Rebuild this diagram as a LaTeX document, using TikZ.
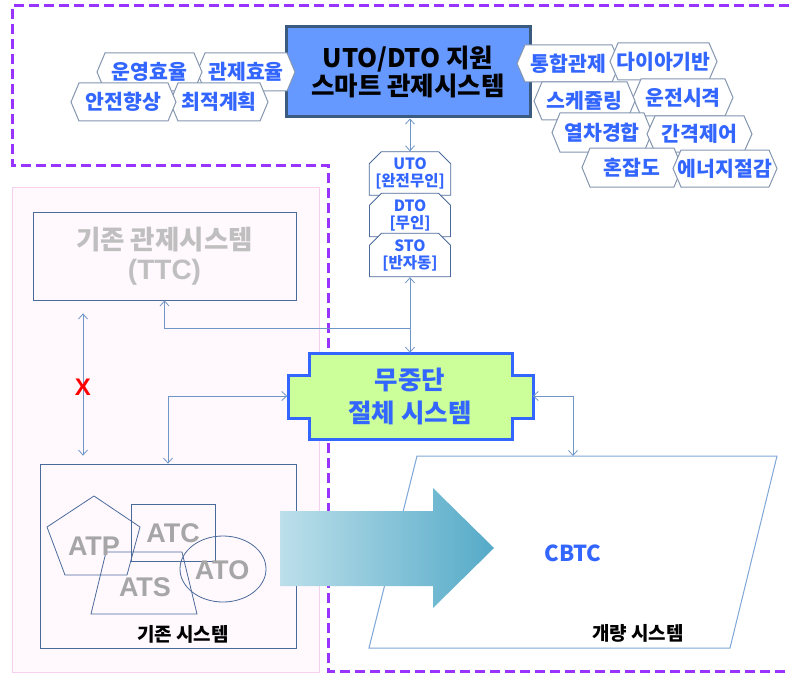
\documentclass[tikz,border=0pt]{standalone}
\usepackage{fontspec}
\setmainfont{Liberation Sans}
\newfontfamily\kr{Noto Sans CJK KR}
\usetikzlibrary{arrows.meta,shapes.misc,calc}
\definecolor{conncol}{HTML}{6F96C8}
\definecolor{purp}{HTML}{9933FF}
\definecolor{pinkfill}{HTML}{FFF8FD}
\definecolor{pinkline}{HTML}{F7D0F0}
\definecolor{boxline}{HTML}{4A6A9A}
\definecolor{smartfill}{HTML}{6699FF}
\definecolor{smartline}{HTML}{3A5A80}
\definecolor{greenfill}{HTML}{CCFF99}
\definecolor{brightblue}{HTML}{3366FF}
\definecolor{tagline}{HTML}{8496B0}
\definecolor{atgray}{HTML}{A6A6A6}
\definecolor{ttcgray}{HTML}{BFBFBF}
\definecolor{paraline}{HTML}{7FA6D8}
\definecolor{arrL}{HTML}{BCDFEA}
\definecolor{arrR}{HTML}{55AAC8}
\tikzset{
  >={Straight Barb[length=5pt,width=9pt]},
  conn/.style={draw=conncol, line width=0.8pt},
  plainbox/.style={draw=boxline, line width=0.8pt, inner sep=0pt},
  hexline/.style={draw=tagline, fill=white, line width=1pt},
  tagtext/.style={font=\kr\bfseries\fontsize{20.5}{22}\selectfont, text=brightblue, inner sep=0pt},
  modebox/.style={chamfered rectangle, chamfered rectangle corners={north west,north east},
    chamfered rectangle xsep=6pt, chamfered rectangle ysep=6pt,
    draw=boxline, fill=white, line width=0.9pt, minimum width=81pt, minimum height=38pt,
    inner sep=0pt, align=center, text=brightblue,
    font=\kr\bfseries\fontsize{15.5}{17}\selectfont},
  atlabel/.style={font=\rmfamily\bfseries\fontsize{27}{30}\selectfont, text=atgray, inner sep=0pt},
  sublabel/.style={font=\kr\bfseries\fontsize{19}{22}\selectfont, text=black, inner sep=0pt},
}
\newcommand\hextag[6]{%
  \draw[hexline] (#2,{(#4+#5)/2}) -- ({#2+8},#4) -- ({#3-8},#4) -- (#3,{(#4+#5)/2}) -- ({#3-8},#5) -- ({#2+8},#5) -- cycle;
  \node[tagtext] (#1) at ({(#2+#3)/2},{(#4+#5)/2}) {#6};}
\begin{document}
\begin{tikzpicture}[x=1pt,y=-1pt]
\useasboundingbox (0,0) rectangle (789,674);
% pink panel
\filldraw[fill=pinkfill, draw=pinkline, line width=1pt] (12,187) rectangle (319,672);
% dashed border
\draw[purp, line width=3pt, dash pattern=on 10pt off 5pt] (789,6) -- (12,6) -- (12,165) -- (328,165) -- (328,671) -- (789,671);

% smart control box
\node[draw=smartline, fill=smartfill, line width=3pt, minimum width=244pt, minimum height=90pt,
  align=center, inner sep=0pt, font=\kr\bfseries\fontsize{25.5}{28}\selectfont] (smart) at (408,72)
  {UTO/DTO 지원\\스마트 관제시스템};

% tags left
\hextag{t2}{197}{295}{53}{91}{관제효율}
\hextag{t1}{97}{202}{53}{91}{운영효율}
\hextag{t4}{170}{268}{83}{121}{최적계획}
\hextag{t3}{71}{176}{83}{121}{안전향상}
% tags right
\hextag{t5}{517}{620}{45}{82}{통합관제}
\hextag{t6}{610}{717}{43}{80}{다이아기반}
\hextag{t8}{633}{733}{79}{116}{운전시격}
\hextag{t7}{534}{635}{82}{120}{스케쥴링}
\hextag{t9}{552}{652}{113}{152}{열차경합}
\hextag{t10}{647}{752}{116}{152}{간격제어}
\hextag{t11}{582}{682}{148}{187}{혼잡도}
\hextag{t12}{673}{777}{150}{187}{에너지절감}

% mode boxes
\node[modebox] (uto) at (410,173.5) {UTO\\{[완전무인]}};
\node[modebox] (dto) at (410,215) {DTO\\{[무인]}};
\node[modebox] (sto) at (410,255) {STO\\{[반자동]}};

% TTC box
\node[plainbox, minimum width=263pt, minimum height=88pt, align=center, text=ttcgray,
  font=\kr\bfseries\fontsize{26.5}{30}\selectfont] (ttc) at (164.5,256)
  {기존 관제시스템\\{\rmfamily\fontsize{28}{30}\selectfont (TTC)}};

% existing system box
\node[plainbox, minimum width=256pt, minimum height=184pt] (exist) at (168,556) {};
\draw[boxline, line width=0.8pt] (94,496) -- (140,527) -- (127,575) -- (65,575) -- (47,527) -- cycle;
\draw[boxline, line width=0.8pt] (131,504) rectangle (215,561);
\draw[boxline, line width=0.8pt] (106,552) -- (182,552) -- (197,614) -- (91,614) -- cycle;
\draw[boxline, line width=0.8pt] (223,569) ellipse [x radius=43pt, y radius=33pt];
\node[atlabel] (atp) at (94,546) {ATP};
\node[atlabel] (atc) at (173,533) {ATC};
\node[atlabel] (ats) at (145,587) {ATS};
\node[atlabel] (ato) at (222,570) {ATO};
\node[sublabel] (existlab) at (183,634) {기존 시스템};

% CBTC parallelogram
\draw[paraline, line width=1pt, fill=white] (417,456) -- (777,456) -- (730,648) -- (369,648) -- cycle;
\coordinate (cbtctop) at (573,456);
\node[font=\kr\bfseries\fontsize{22}{26}\selectfont, text=brightblue, inner sep=0pt] (cbtc) at (573,553) {CBTC};
\node[sublabel] (newlab) at (638,633) {개량 시스템};

% big gradient arrow
\shade[left color=arrL, right color=arrR] (280,511) -- (433,511) -- (433,488) -- (494,548) -- (433,608) -- (433,586) -- (280,586) -- cycle;

% green switching system
\filldraw[fill=greenfill, draw=brightblue, line width=3pt] (309,353) -- (512,353) -- (512,375) -- (533,375) -- (533,418) -- (512,418) -- (512,439) -- (309,439) -- (309,418) -- (288,418) -- (288,375) -- (309,375) -- cycle;
\node[minimum width=245pt, minimum height=86pt, inner sep=0pt, align=center, text=brightblue,
  font=\kr\bfseries\fontsize{25.5}{33}\selectfont] (green) at (410,396) {무중단\\절체 시스템};

% connectors
\draw[conn,<->] (uto.north) -- (uto.north |- smart.south);
\draw[conn,<->] (sto.south) -- (green.north);
\path (sto.south) -- (green.north) coordinate[pos=0.675] (junc);
\draw[conn,<-] (ttc.south) |- (junc);
\draw[conn,<->] (green.west) -| (exist.north);
\draw[conn,<->] (green.east) -| (cbtctop);
\coordinate (xcol) at (83,0);
\draw[conn,<->] ([yshift=-13pt]ttc.south -| xcol) -- ([yshift=8pt]exist.north -| xcol);
\node[font=\rmfamily\bfseries\fontsize{24}{24}\selectfont, text=red, inner sep=0pt] (xmark) at (83,387) {X};
\end{tikzpicture}
\end{document}
